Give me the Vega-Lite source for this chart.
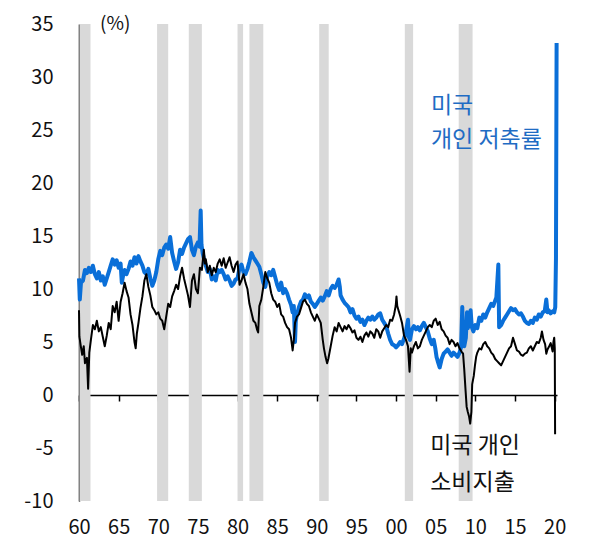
{
  "$schema": "https://vega.github.io/schema/vega-lite/v6.json",
  "autosize": "none",
  "width": 478,
  "height": 477,
  "padding": {"left": 79, "top": 24, "right": 46, "bottom": 47},
  "config": {
    "view": {"stroke": null},
    "font": "Noto Sans CJK KR",
    "axisX": {"offset": -106, "tickSize": 6, "tickColor": "#000", "tickWidth": 1.5, "domainColor": "#000", "domainWidth": 1.5,
      "labelPadding": 116, "labelFontSize": 20, "labelColor": "#111", "labelFont": "Noto Sans CJK KR", "grid": false, "labelFlush": false},
    "axisY": {"ticks": false, "grid": false, "domainColor": "#000", "domainWidth": 1.5, "labelFontSize": 20, "labelColor": "#111",
      "labelFont": "Noto Sans CJK KR", "labelPadding": 26}
  },
  "datasets": {
    "rec": [
      {"start": 1960.05, "end": 1961.45},
      {"start": 1969.85, "end": 1971.25},
      {"start": 1973.85, "end": 1975.5},
      {"start": 1980.0, "end": 1980.7},
      {"start": 1981.5, "end": 1983.25},
      {"start": 1990.3, "end": 1991.5},
      {"start": 2001.1, "end": 2002.15},
      {"start": 2007.9, "end": 2009.65}
    ],
    "sav": [
      {"t":1960.0,"v":11.0},{"t":1960.1,"v":9.0},{"t":1960.25,"v":10.6},{"t":1960.5,"v":10.8},{"t":1960.75,"v":11.8},
      {"t":1961.0,"v":11.5},{"t":1961.25,"v":12.0},{"t":1961.5,"v":11.6},{"t":1961.75,"v":12.2},
      {"t":1962.0,"v":11.4},{"t":1962.25,"v":11.0},{"t":1962.5,"v":11.6},{"t":1962.75,"v":10.8},
      {"t":1963.0,"v":11.2},{"t":1963.25,"v":10.4},{"t":1963.5,"v":11.0},{"t":1963.75,"v":11.6},
      {"t":1964.0,"v":12.2},{"t":1964.25,"v":12.8},{"t":1964.5,"v":12.3},{"t":1964.75,"v":12.7},
      {"t":1965.0,"v":12.0},{"t":1965.25,"v":12.4},{"t":1965.4,"v":10.6},{"t":1965.6,"v":11.4},{"t":1965.75,"v":11.8},
      {"t":1966.0,"v":11.4},{"t":1966.25,"v":11.9},{"t":1966.5,"v":12.6},{"t":1966.75,"v":12.2},
      {"t":1967.0,"v":13.0},{"t":1967.25,"v":12.4},{"t":1967.5,"v":13.1},{"t":1967.75,"v":12.6},
      {"t":1968.0,"v":12.2},{"t":1968.25,"v":11.6},{"t":1968.5,"v":11.4},{"t":1968.75,"v":11.9},
      {"t":1969.0,"v":11.0},{"t":1969.25,"v":10.3},{"t":1969.5,"v":10.8},{"t":1969.75,"v":11.6},
      {"t":1970.0,"v":12.8},{"t":1970.25,"v":13.6},{"t":1970.5,"v":13.2},{"t":1970.75,"v":13.9},
      {"t":1971.0,"v":14.2},{"t":1971.25,"v":13.8},{"t":1971.5,"v":14.9},{"t":1971.75,"v":13.4},
      {"t":1972.0,"v":12.6},{"t":1972.25,"v":11.9},{"t":1972.5,"v":12.5},{"t":1972.75,"v":13.7},
      {"t":1973.0,"v":13.3},{"t":1973.25,"v":13.9},{"t":1973.5,"v":14.3},{"t":1973.75,"v":14.7},
      {"t":1974.0,"v":14.9},{"t":1974.25,"v":13.7},{"t":1974.5,"v":13.2},{"t":1974.75,"v":14.0},
      {"t":1975.0,"v":14.4},{"t":1975.2,"v":14.0},{"t":1975.35,"v":17.4},{"t":1975.45,"v":14.2},{"t":1975.6,"v":13.4},{"t":1975.8,"v":12.7},
      {"t":1976.0,"v":12.2},{"t":1976.25,"v":11.6},{"t":1976.5,"v":11.9},{"t":1976.75,"v":10.9},
      {"t":1977.0,"v":11.2},{"t":1977.25,"v":10.8},{"t":1977.5,"v":11.8},{"t":1977.75,"v":11.6},
      {"t":1978.0,"v":11.8},{"t":1978.25,"v":11.4},{"t":1978.5,"v":10.9},{"t":1978.75,"v":11.2},
      {"t":1979.0,"v":10.8},{"t":1979.25,"v":10.3},{"t":1979.5,"v":10.5},{"t":1979.75,"v":10.9},
      {"t":1980.0,"v":11.0},{"t":1980.25,"v":12.0},{"t":1980.5,"v":12.3},{"t":1980.75,"v":11.6},
      {"t":1981.0,"v":11.4},{"t":1981.25,"v":11.9},{"t":1981.5,"v":12.6},{"t":1981.75,"v":13.4},
      {"t":1982.0,"v":13.0},{"t":1982.25,"v":12.7},{"t":1982.5,"v":12.4},{"t":1982.75,"v":12.1},
      {"t":1983.0,"v":11.4},{"t":1983.25,"v":10.6},{"t":1983.5,"v":10.2},{"t":1983.75,"v":11.2},
      {"t":1984.0,"v":11.6},{"t":1984.25,"v":11.3},{"t":1984.5,"v":11.8},{"t":1984.75,"v":11.1},
      {"t":1985.0,"v":10.4},{"t":1985.25,"v":9.9},{"t":1985.5,"v":10.6},{"t":1985.75,"v":9.6},
      {"t":1986.0,"v":10.0},{"t":1986.25,"v":9.6},{"t":1986.5,"v":9.0},{"t":1986.75,"v":8.5},{"t":1986.95,"v":7.8},
      {"t":1987.1,"v":8.4},{"t":1987.25,"v":5.0},{"t":1987.35,"v":7.0},{"t":1987.5,"v":7.6},{"t":1987.75,"v":8.3},
      {"t":1988.0,"v":8.8},{"t":1988.25,"v":9.0},{"t":1988.5,"v":9.5},{"t":1988.75,"v":9.2},
      {"t":1989.0,"v":9.4},{"t":1989.25,"v":8.8},{"t":1989.5,"v":8.6},{"t":1989.75,"v":8.3},
      {"t":1990.0,"v":8.6},{"t":1990.25,"v":8.9},{"t":1990.5,"v":9.2},{"t":1990.75,"v":8.9},
      {"t":1991.0,"v":9.3},{"t":1991.25,"v":9.8},{"t":1991.5,"v":9.4},{"t":1991.75,"v":10.0},
      {"t":1992.0,"v":10.3},{"t":1992.25,"v":10.1},{"t":1992.5,"v":10.4},{"t":1992.75,"v":10.9},{"t":1992.9,"v":10.2},
      {"t":1993.0,"v":9.4},{"t":1993.25,"v":9.0},{"t":1993.5,"v":8.7},{"t":1993.75,"v":8.5},
      {"t":1994.0,"v":8.3},{"t":1994.25,"v":7.8},{"t":1994.5,"v":8.1},{"t":1994.75,"v":7.5},
      {"t":1995.0,"v":7.2},{"t":1995.25,"v":7.4},{"t":1995.5,"v":6.9},{"t":1995.75,"v":7.1},
      {"t":1996.0,"v":6.6},{"t":1996.25,"v":7.0},{"t":1996.5,"v":7.3},{"t":1996.75,"v":7.1},
      {"t":1997.0,"v":7.4},{"t":1997.25,"v":7.1},{"t":1997.5,"v":7.3},{"t":1997.75,"v":7.6},
      {"t":1998.0,"v":7.7},{"t":1998.25,"v":7.1},{"t":1998.5,"v":6.8},{"t":1998.75,"v":6.5},
      {"t":1999.0,"v":5.8},{"t":1999.25,"v":5.2},{"t":1999.5,"v":4.8},{"t":1999.75,"v":4.7},
      {"t":2000.0,"v":4.5},{"t":2000.25,"v":4.7},{"t":2000.5,"v":5.0},{"t":2000.75,"v":4.8},
      {"t":2001.0,"v":5.3},{"t":2001.25,"v":6.0},{"t":2001.5,"v":7.1},{"t":2001.6,"v":5.5},{"t":2001.75,"v":5.2},
      {"t":2002.0,"v":6.2},{"t":2002.25,"v":6.5},{"t":2002.5,"v":6.2},{"t":2002.75,"v":6.4},
      {"t":2003.0,"v":6.1},{"t":2003.25,"v":6.5},{"t":2003.5,"v":6.8},{"t":2003.75,"v":6.4},
      {"t":2004.0,"v":6.0},{"t":2004.25,"v":5.3},{"t":2004.5,"v":4.8},{"t":2004.75,"v":5.2},{"t":2004.95,"v":4.4},
      {"t":2005.1,"v":3.6},{"t":2005.25,"v":3.2},{"t":2005.5,"v":2.6},{"t":2005.75,"v":3.4},
      {"t":2006.0,"v":3.9},{"t":2006.25,"v":4.1},{"t":2006.5,"v":4.3},{"t":2006.75,"v":4.0},
      {"t":2007.0,"v":3.7},{"t":2007.25,"v":4.0},{"t":2007.5,"v":3.8},{"t":2007.75,"v":3.6},
      {"t":2008.0,"v":4.0},{"t":2008.2,"v":4.5},{"t":2008.35,"v":8.3},{"t":2008.45,"v":5.6},{"t":2008.6,"v":4.6},{"t":2008.8,"v":5.4},{"t":2008.95,"v":7.8},
      {"t":2009.05,"v":6.3},{"t":2009.25,"v":7.2},{"t":2009.4,"v":8.0},{"t":2009.55,"v":6.4},{"t":2009.75,"v":6.0},
      {"t":2010.0,"v":6.6},{"t":2010.25,"v":6.3},{"t":2010.5,"v":7.3},{"t":2010.75,"v":7.0},
      {"t":2011.0,"v":7.6},{"t":2011.25,"v":7.3},{"t":2011.5,"v":7.8},{"t":2011.75,"v":8.2},
      {"t":2012.0,"v":8.6},{"t":2012.25,"v":8.4},{"t":2012.5,"v":8.9},{"t":2012.65,"v":9.2},{"t":2012.9,"v":12.3},
      {"t":2013.0,"v":6.4},{"t":2013.25,"v":6.6},{"t":2013.5,"v":7.0},{"t":2013.75,"v":7.3},
      {"t":2014.0,"v":7.6},{"t":2014.25,"v":7.9},{"t":2014.5,"v":8.2},{"t":2014.75,"v":8.0},
      {"t":2015.0,"v":8.1},{"t":2015.25,"v":7.8},{"t":2015.5,"v":7.6},{"t":2015.75,"v":7.7},
      {"t":2016.0,"v":7.4},{"t":2016.25,"v":7.0},{"t":2016.5,"v":6.8},{"t":2016.75,"v":6.7},
      {"t":2017.0,"v":7.0},{"t":2017.25,"v":6.8},{"t":2017.5,"v":7.3},{"t":2017.75,"v":7.1},
      {"t":2018.0,"v":7.6},{"t":2018.25,"v":7.4},{"t":2018.5,"v":7.8},{"t":2018.75,"v":7.9},{"t":2018.95,"v":9.0},
      {"t":2019.1,"v":7.8},{"t":2019.25,"v":8.0},{"t":2019.5,"v":7.7},{"t":2019.75,"v":7.9},{"t":2019.95,"v":7.8},
      {"t":2020.08,"v":8.3},{"t":2020.17,"v":12.9},{"t":2020.25,"v":33.2}
    ],
    "pce": [
      {"t":1960.0,"v":8.0},{"t":1960.05,"v":5.5},{"t":1960.25,"v":4.5},{"t":1960.4,"v":3.8},{"t":1960.6,"v":4.6},{"t":1960.75,"v":3.0},
      {"t":1961.0,"v":3.5},{"t":1961.15,"v":0.6},{"t":1961.3,"v":4.0},{"t":1961.5,"v":5.2},{"t":1961.75,"v":6.6},
      {"t":1962.0,"v":6.2},{"t":1962.25,"v":7.0},{"t":1962.5,"v":6.0},{"t":1962.75,"v":6.4},
      {"t":1963.0,"v":5.5},{"t":1963.25,"v":4.6},{"t":1963.5,"v":5.6},{"t":1963.75,"v":6.8},
      {"t":1964.0,"v":6.2},{"t":1964.25,"v":8.4},{"t":1964.5,"v":7.8},{"t":1964.75,"v":8.8},
      {"t":1965.0,"v":7.0},{"t":1965.25,"v":8.8},{"t":1965.5,"v":9.6},{"t":1965.75,"v":10.6},
      {"t":1966.0,"v":9.8},{"t":1966.25,"v":9.2},{"t":1966.5,"v":7.6},{"t":1966.75,"v":6.6},
      {"t":1967.0,"v":5.0},{"t":1967.15,"v":4.4},{"t":1967.3,"v":5.8},{"t":1967.5,"v":6.8},{"t":1967.75,"v":8.2},
      {"t":1968.0,"v":9.3},{"t":1968.25,"v":10.8},{"t":1968.5,"v":11.4},{"t":1968.75,"v":10.2},
      {"t":1969.0,"v":9.4},{"t":1969.25,"v":8.3},{"t":1969.5,"v":8.0},{"t":1969.75,"v":7.6},
      {"t":1970.0,"v":7.8},{"t":1970.25,"v":7.2},{"t":1970.5,"v":7.0},{"t":1970.75,"v":6.2},
      {"t":1971.0,"v":7.4},{"t":1971.25,"v":8.6},{"t":1971.5,"v":8.3},{"t":1971.75,"v":9.3},
      {"t":1972.0,"v":9.8},{"t":1972.25,"v":10.4},{"t":1972.5,"v":10.0},{"t":1972.75,"v":11.2},
      {"t":1973.0,"v":12.0},{"t":1973.25,"v":11.0},{"t":1973.5,"v":10.2},{"t":1973.75,"v":9.4},
      {"t":1974.0,"v":8.3},{"t":1974.25,"v":10.8},{"t":1974.5,"v":11.4},{"t":1974.75,"v":10.0},
      {"t":1975.0,"v":9.6},{"t":1975.25,"v":12.0},{"t":1975.5,"v":11.8},{"t":1975.75,"v":13.7},{"t":1975.9,"v":12.4},
      {"t":1976.0,"v":12.8},{"t":1976.25,"v":11.6},{"t":1976.5,"v":12.2},{"t":1976.75,"v":11.3},
      {"t":1977.0,"v":12.0},{"t":1977.25,"v":11.6},{"t":1977.5,"v":12.4},{"t":1977.75,"v":12.8},
      {"t":1978.0,"v":12.2},{"t":1978.25,"v":12.9},{"t":1978.5,"v":12.0},{"t":1978.75,"v":12.5},
      {"t":1979.0,"v":13.0},{"t":1979.25,"v":12.2},{"t":1979.5,"v":11.6},{"t":1979.75,"v":12.3},
      {"t":1980.0,"v":12.6},{"t":1980.25,"v":10.4},{"t":1980.5,"v":10.8},{"t":1980.75,"v":11.4},
      {"t":1981.0,"v":10.6},{"t":1981.25,"v":10.0},{"t":1981.5,"v":8.6},{"t":1981.75,"v":7.8},
      {"t":1982.0,"v":7.0},{"t":1982.25,"v":6.8},{"t":1982.45,"v":6.2},{"t":1982.6,"v":5.9},{"t":1982.75,"v":8.4},
      {"t":1983.0,"v":9.0},{"t":1983.25,"v":10.2},{"t":1983.5,"v":11.6},{"t":1983.75,"v":11.0},
      {"t":1984.0,"v":10.6},{"t":1984.25,"v":9.6},{"t":1984.5,"v":9.0},{"t":1984.75,"v":8.8},
      {"t":1985.0,"v":8.3},{"t":1985.25,"v":8.6},{"t":1985.5,"v":7.6},{"t":1985.75,"v":7.4},
      {"t":1986.0,"v":6.8},{"t":1986.25,"v":6.4},{"t":1986.5,"v":6.2},{"t":1986.75,"v":5.4},{"t":1986.95,"v":4.2},
      {"t":1987.1,"v":5.2},{"t":1987.25,"v":6.8},{"t":1987.5,"v":7.4},{"t":1987.75,"v":7.6},
      {"t":1988.0,"v":8.2},{"t":1988.25,"v":8.8},{"t":1988.5,"v":9.0},{"t":1988.75,"v":8.6},
      {"t":1989.0,"v":8.4},{"t":1989.25,"v":7.8},{"t":1989.5,"v":7.4},{"t":1989.75,"v":7.0},
      {"t":1990.0,"v":7.6},{"t":1990.25,"v":7.2},{"t":1990.5,"v":6.8},{"t":1990.75,"v":5.2},{"t":1990.9,"v":4.4},
      {"t":1991.1,"v":3.6},{"t":1991.3,"v":3.0},{"t":1991.45,"v":3.4},{"t":1991.75,"v":4.6},
      {"t":1992.0,"v":5.6},{"t":1992.25,"v":6.4},{"t":1992.5,"v":6.0},{"t":1992.75,"v":6.8},
      {"t":1993.0,"v":6.4},{"t":1993.25,"v":6.0},{"t":1993.5,"v":6.5},{"t":1993.75,"v":6.2},
      {"t":1994.0,"v":6.6},{"t":1994.25,"v":6.3},{"t":1994.5,"v":5.9},{"t":1994.75,"v":6.1},
      {"t":1995.0,"v":5.4},{"t":1995.25,"v":5.2},{"t":1995.5,"v":5.5},{"t":1995.75,"v":5.0},
      {"t":1996.0,"v":5.6},{"t":1996.25,"v":5.9},{"t":1996.5,"v":5.5},{"t":1996.75,"v":6.0},
      {"t":1997.0,"v":5.8},{"t":1997.25,"v":5.4},{"t":1997.5,"v":6.2},{"t":1997.75,"v":6.0},
      {"t":1998.0,"v":5.4},{"t":1998.25,"v":6.0},{"t":1998.5,"v":6.3},{"t":1998.75,"v":6.6},
      {"t":1999.0,"v":6.4},{"t":1999.25,"v":7.1},{"t":1999.5,"v":7.0},{"t":1999.75,"v":7.6},{"t":1999.95,"v":8.4},
      {"t":2000.05,"v":9.3},{"t":2000.15,"v":8.4},{"t":2000.3,"v":8.0},{"t":2000.5,"v":7.5},{"t":2000.75,"v":6.8},
      {"t":2001.0,"v":5.6},{"t":2001.25,"v":5.2},{"t":2001.5,"v":4.6},{"t":2001.7,"v":2.2},{"t":2001.85,"v":4.4},
      {"t":2002.0,"v":4.0},{"t":2002.25,"v":4.6},{"t":2002.5,"v":5.0},{"t":2002.75,"v":4.4},
      {"t":2003.0,"v":4.6},{"t":2003.25,"v":5.2},{"t":2003.5,"v":5.6},{"t":2003.75,"v":6.0},
      {"t":2004.0,"v":6.4},{"t":2004.25,"v":6.6},{"t":2004.5,"v":6.4},{"t":2004.75,"v":7.0},
      {"t":2005.0,"v":7.2},{"t":2005.25,"v":6.6},{"t":2005.5,"v":6.9},{"t":2005.75,"v":6.2},
      {"t":2006.0,"v":6.0},{"t":2006.25,"v":5.6},{"t":2006.5,"v":5.4},{"t":2006.75,"v":4.8},
      {"t":2007.0,"v":5.2},{"t":2007.25,"v":5.0},{"t":2007.5,"v":4.6},{"t":2007.75,"v":4.9},
      {"t":2008.0,"v":4.4},{"t":2008.25,"v":4.1},{"t":2008.45,"v":3.9},{"t":2008.6,"v":2.4},{"t":2008.75,"v":0.6},{"t":2008.9,"v":-1.1},
      {"t":2009.05,"v":-1.6},{"t":2009.2,"v":-2.0},{"t":2009.35,"v":-2.7},{"t":2009.5,"v":-1.6},{"t":2009.6,"v":1.0},{"t":2009.8,"v":1.8},{"t":2009.95,"v":2.8},
      {"t":2010.1,"v":3.6},{"t":2010.25,"v":4.0},{"t":2010.5,"v":4.4},{"t":2010.75,"v":4.3},
      {"t":2011.0,"v":4.8},{"t":2011.25,"v":5.0},{"t":2011.5,"v":4.6},{"t":2011.75,"v":4.4},
      {"t":2012.0,"v":4.0},{"t":2012.25,"v":3.8},{"t":2012.5,"v":3.4},{"t":2012.75,"v":3.2},
      {"t":2013.0,"v":3.0},{"t":2013.25,"v":2.8},{"t":2013.5,"v":3.2},{"t":2013.75,"v":3.6},
      {"t":2014.0,"v":4.0},{"t":2014.25,"v":4.4},{"t":2014.5,"v":4.6},{"t":2014.75,"v":5.4},
      {"t":2015.0,"v":4.8},{"t":2015.25,"v":4.2},{"t":2015.5,"v":4.1},{"t":2015.75,"v":3.8},
      {"t":2016.0,"v":3.7},{"t":2016.25,"v":3.9},{"t":2016.5,"v":4.0},{"t":2016.75,"v":4.4},
      {"t":2017.0,"v":4.6},{"t":2017.25,"v":4.2},{"t":2017.5,"v":4.6},{"t":2017.75,"v":5.0},
      {"t":2018.0,"v":4.9},{"t":2018.25,"v":5.4},{"t":2018.4,"v":6.0},{"t":2018.6,"v":5.2},{"t":2018.8,"v":4.8},{"t":2018.95,"v":3.9},
      {"t":2019.1,"v":4.3},{"t":2019.25,"v":4.5},{"t":2019.5,"v":4.9},{"t":2019.75,"v":4.1},{"t":2019.85,"v":5.0},{"t":2019.95,"v":5.4},
      {"t":2020.02,"v":4.4},{"t":2020.06,"v":-3.7}
    ],
    "notes": [
      {"t":1962.65,"v":35.0,"label":"(%)","grp":"unit"},
      {"t":2004.4,"v":27.26,"label":"미국","grp":"sav"},
      {"t":2004.4,"v":24.06,"label":"개인 저축률","grp":"sav"},
      {"t":2004.3,"v":-4.8,"label":"미국 개인","grp":"pce"},
      {"t":2004.3,"v":-8.3,"label":"소비지출","grp":"pce"}
    ]
  },
  "layer": [
    {
      "data": {"name": "rec"},
      "mark": {"type": "rect", "color": "#d9d9d9"},
      "encoding": {
        "x": {"field": "start", "type": "quantitative", "scale": {"domain": [1960, 2020.3], "nice": false, "zero": false},
          "axis": {"values": [1960,1965,1970,1975,1980,1985,1990,1995,2000,2005,2010,2015,2020],
            "labelExpr": "substring(toString(datum.value), 2, 4)", "title": null}},
        "x2": {"field": "end"}
      }
    },
    {
      "data": {"name": "sav"},
      "mark": {"type": "line", "color": "#0a6fd8", "strokeWidth": 4, "strokeJoin": "round"},
      "encoding": {
        "x": {"field": "t", "type": "quantitative", "scale": {"domain": [1960, 2020.3], "nice": false, "zero": false},
          "axis": {"values": [1960,1965,1970,1975,1980,1985,1990,1995,2000,2005,2010,2015,2020],
            "labelExpr": "substring(toString(datum.value), 2, 4)", "title": null}},
        "y": {"field": "v", "type": "quantitative", "scale": {"domain": [-10, 35], "nice": false, "zero": false},
          "axis": {"values": [-10,-5,0,5,10,15,20,25,30,35], "labelExpr": "toString(datum.value)", "title": null}}
      }
    },
    {
      "data": {"name": "pce"},
      "mark": {"type": "line", "color": "#000000", "strokeWidth": 2, "strokeJoin": "round"},
      "encoding": {
        "x": {"field": "t", "type": "quantitative", "scale": {"domain": [1960, 2020.3], "nice": false, "zero": false},
          "axis": {"values": [1960,1965,1970,1975,1980,1985,1990,1995,2000,2005,2010,2015,2020],
            "labelExpr": "substring(toString(datum.value), 2, 4)", "title": null}},
        "y": {"field": "v", "type": "quantitative", "scale": {"domain": [-10, 35], "nice": false, "zero": false},
          "axis": {"values": [-10,-5,0,5,10,15,20,25,30,35], "labelExpr": "toString(datum.value)", "title": null}}
      }
    },
    {
      "data": {"name": "notes"},
      "mark": {"type": "text", "fontSize": 23, "font": "Noto Sans CJK KR", "baseline": "middle", "align": "left"},
      "encoding": {
        "x": {"field": "t", "type": "quantitative", "scale": {"domain": [1960, 2020.3], "nice": false, "zero": false},
          "axis": {"values": [1960,1965,1970,1975,1980,1985,1990,1995,2000,2005,2010,2015,2020],
            "labelExpr": "substring(toString(datum.value), 2, 4)", "title": null}},
        "y": {"field": "v", "type": "quantitative", "scale": {"domain": [-10, 35], "nice": false, "zero": false},
          "axis": {"values": [-10,-5,0,5,10,15,20,25,30,35], "labelExpr": "toString(datum.value)", "title": null}},
        "text": {"field": "label"},
        "size": {"condition": {"test": "datum.grp === 'unit'", "value": 19}, "value": 23},
        "color": {"field": "grp", "type": "nominal", "scale": {"domain": ["unit", "sav", "pce"], "range": ["#111111", "#1f6cc4", "#111111"]}, "legend": null}
      }
    }
  ]
}
